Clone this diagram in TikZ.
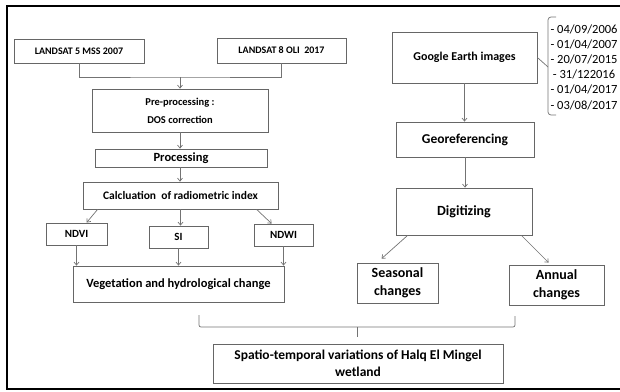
\documentclass[tikz,border=0pt]{standalone}
\usepackage{fontspec}
\setmainfont{Carlito}
\usetikzlibrary{arrows.meta,calc}
\tikzset{
  x=1pt,y=-1pt,
  box/.style={draw=black!60,line width=0.8pt,inner sep=0pt,align=center,font=\bfseries\fontsize{12.5}{15}\selectfont},
  conn/.style={draw=black!55,line width=0.7pt},
  arr/.style={conn,-{Straight Barb[length=3pt,width=5pt]}},
}
\begin{document}
\begin{tikzpicture}
\useasboundingbox (0,0) rectangle (620,391);
\draw[line width=2pt] (630,6) -- (7,6) -- (7,389) -- (630,389);
% left column
\node[box,minimum width=130pt,minimum height=24pt,font=\bfseries\fontsize{10}{12}\selectfont] (l5) at (79,51) {LANDSAT 5 MSS 2007};
\node[box,minimum width=129pt,minimum height=25pt,font=\bfseries\fontsize{10}{12}\selectfont] (l8) at (281.5,50.5) {LANDSAT 8 OLI~ 2017};
\node[box,minimum width=176pt,minimum height=43pt,font=\bfseries\fontsize{10.5}{18}\selectfont] (pre) at (180,110.5) {Pre-processing :\\DOS correction};
\node[box,minimum width=172pt,minimum height=18pt] (proc) at (181,158) {Processing};
\node[box,minimum width=195pt,minimum height=27pt,font=\bfseries\fontsize{11.5}{14}\selectfont] (calc) at (180.5,195.5) {Calcluation~ of radiometric index};
\node[box,minimum width=61pt,minimum height=22pt,font=\bfseries\fontsize{11}{13}\selectfont] (ndvi) at (76.5,234) {NDVI};
\node[box,minimum width=59pt,minimum height=22pt,font=\bfseries\fontsize{11}{13}\selectfont] (si) at (178.5,237) {SI};
\node[box,minimum width=59pt,minimum height=22pt,font=\bfseries\fontsize{11}{13}\selectfont] (ndwi) at (283.5,235) {NDWI};
\node[box,minimum width=211pt,minimum height=36pt] (veg) at (178.5,284) {Vegetation and hydrological change};
\node[box,minimum width=290pt,minimum height=39pt,font=\bfseries\fontsize{13.5}{17}\selectfont] (sp) at (358,363.5) {Spatio-temporal variations of Halq El Mingel\\wetland};
% right column
\node[box,minimum width=145pt,minimum height=51pt,font=\bfseries\fontsize{12}{15}\selectfont] (ge) at (464.5,57.5) {Google Earth images};
\node[box,minimum width=138pt,minimum height=35pt,font=\bfseries\fontsize{13.5}{16}\selectfont] (geo) at (465,139.5) {Georeferencing};
\node[box,minimum width=136pt,minimum height=47pt,font=\bfseries\fontsize{14}{17}\selectfont] (dig) at (464,211.5) {Digitizing};
\node[box,minimum width=81pt,minimum height=40pt,font=\bfseries\fontsize{14}{18}\selectfont] (seas) at (397.5,283) {Seasonal\\changes};
\node[box,minimum width=95pt,minimum height=40pt,font=\bfseries\fontsize{14}{18}\selectfont] (ann) at (556.5,285) {Annual\\changes};
\node[inner sep=0pt,align=center,font=\fontsize{12.5}{15.2}\selectfont] (dates) at (584,67) {- 04/09/2006\\- 01/04/2007\\- 20/07/2015\\- 31/122016\\- 01/04/2017\\- 03/08/2017};
% connectors left
\coordinate (j) at (180,77);
\draw[conn] (l5.south) |- (j) -| (l8.south);
\draw[arr] (j) -- (pre.north);
\draw[arr] (pre.south) -- (pre.south |- proc.north);
\draw[arr] (pre.south |- proc.south) -- (pre.south |- calc.north);
\draw[arr] ([xshift=15pt]calc.south west) -- ([xshift=41pt]ndvi.north west);
\draw[arr] (calc.south) -- (calc.south |- si.north);
\draw[arr] ([xshift=174pt]calc.south west) -- ([xshift=18pt]ndwi.north west);
\draw[arr] (ndvi.south) -- (ndvi.south |- veg.north);
\draw[arr] (si.south) -- (si.south |- veg.north);
\draw[arr] (ndwi.south) -- (ndwi.south |- veg.north);
% connectors right
\draw[arr] (ge.south) -- (ge.south |- geo.north);
\draw[arr] (geo.south) -- (geo.south |- dig.north);
\draw[arr] ([xshift=12pt]dig.south west) -- ([xshift=25pt,yshift=4pt]seas.north west);
\draw[arr] ([xshift=-11pt]dig.south east) -- ([xshift=40pt,yshift=2pt]ann.north west);
% bottom brace
\draw[conn,rounded corners=2pt] (199,315) -- (199,327) -- (515,327) -- (515,316);
\draw[conn] (357,327) -- (357,337);
% dates brace
\draw[conn,rounded corners=3pt] (556,17) -- (548,17) -- (548,67) -- (548,115) -- (556,115);
\draw[conn] (ge.east) -- (548,67);
\end{tikzpicture}
\end{document}
